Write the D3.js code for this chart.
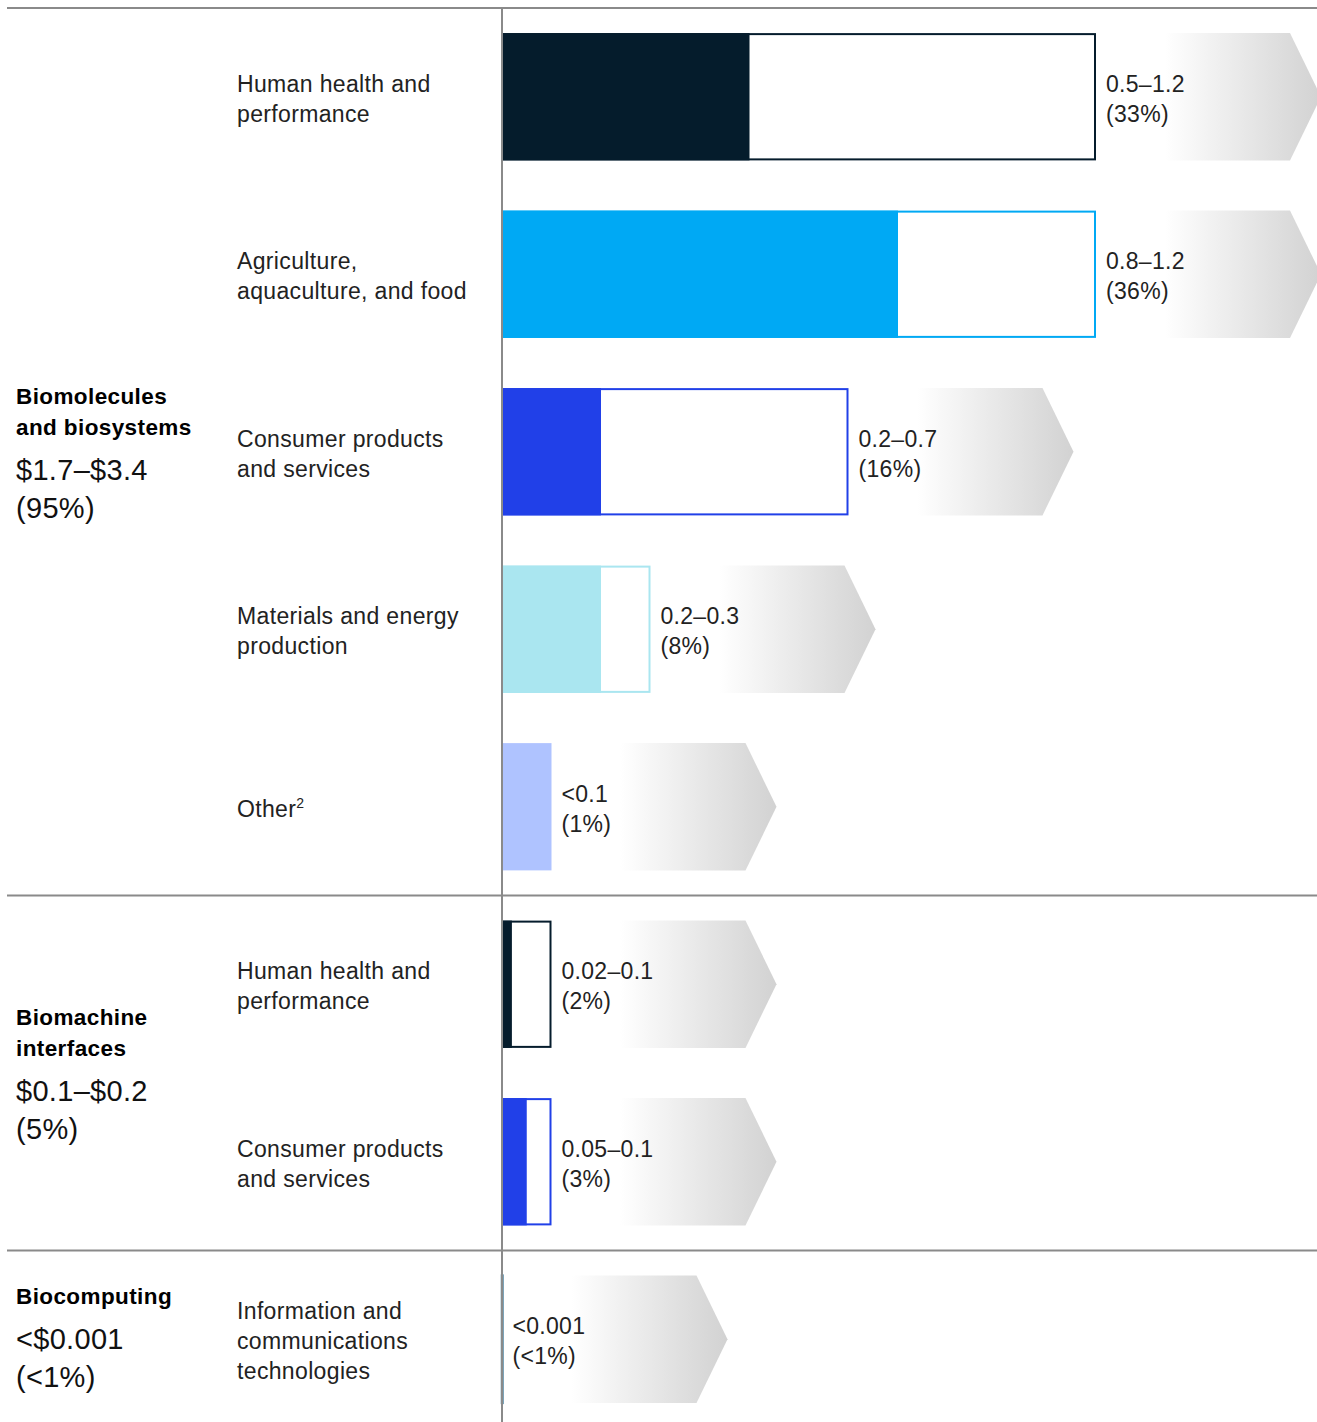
<!DOCTYPE html>
<html>
<head>
<meta charset="utf-8">
<script src="https://cdn.jsdelivr.net/npm/d3@7"></script>
<style>
  html, body { margin: 0; padding: 0; background: #fff; }
  svg { display: block; font-family: "Liberation Sans", Arial, sans-serif; }
</style>
</head>
<body>
<svg id="chart" width="1317" height="1422"></svg>
<script>
// ---------- data ----------
const groupNames = [["Biomolecules", "and biosystems"], ["Biomachine", "interfaces"], ["Biocomputing"]];
const groupValues = ["$1.7–$3.4", "$0.1–$0.2", "<$0.001"];
const groupShares = ["(95%)", "(5%)", "(<1%)"];

const categories = [
  ["Human health and", "performance"],
  ["Agriculture,", "aquaculture, and food"],
  ["Consumer products", "and services"],
  ["Materials and energy", "production"],
  ["Other"],
  ["Human health and", "performance"],
  ["Consumer products", "and services"],
  ["Information and", "communications", "technologies"]
];
const categoryGroup = [0, 0, 0, 0, 0, 1, 1, 2];
const lowValues  = [0.5, 0.8, 0.2, 0.2, 0.1, 0.02, 0.05, 0.001];
const highValues = [1.2, 1.2, 0.7, 0.3, 0.1, 0.1, 0.1, 0.001];
const rangeLabels = ["0.5–1.2", "0.8–1.2", "0.2–0.7", "0.2–0.3", "<0.1", "0.02–0.1", "0.05–0.1", "<0.001"];
const shareLabels = ["(33%)", "(36%)", "(16%)", "(8%)", "(1%)", "(2%)", "(3%)", "(<1%)"];
const barColors = ["#051c2c", "#00a9f4", "#2140e8", "#aae6f0", "#afc3ff", "#051c2c", "#2140e8", "#4f86a3"];

// ---------- layout ----------
const W = 1317, H = 1422;
const svg = d3.select("#chart");
const x = d3.scaleLinear().domain([0, 1.2]).range([502, 1096]);
const y = d3.scaleBand().domain(d3.range(categories.length)).range([8, 1428])
  .paddingInner(0.283).paddingOuter(0.1415);
const step = y.step(), bw = y.bandwidth();
const gap = step - bw;

const defs = svg.append("defs");
const grad = defs.append("linearGradient").attr("id", "fade")
  .attr("x1", "0").attr("x2", "1").attr("y1", "0").attr("y2", "0");
grad.append("stop").attr("offset", "0").attr("stop-color", "#ffffff");
grad.append("stop").attr("offset", "0.3").attr("stop-color", "#ffffff");
grad.append("stop").attr("offset", "0.87").attr("stop-color", "#dadada");
grad.append("stop").attr("offset", "1").attr("stop-color", "#d2d2d2");

const idx = d3.range(categories.length);

// arrows
svg.append("g").selectAll("path").data(idx).join("path")
  .attr("fill", "url(#fade)")
  .attr("d", i => {
    const x0 = x(highValues[i]) + 2, xc = x(highValues[i]) + 194, xt = x(highValues[i]) + 225;
    const t = y(i), b = y(i) + bw, m = y(i) + bw / 2;
    return `M${x0},${t}L${xc},${t}L${xt},${m}L${xc},${b}L${x0},${b}Z`;
  });

// outline (high) rects
svg.append("g").selectAll("rect").data(idx.filter(i => highValues[i] > lowValues[i])).join("rect")
  .attr("x", x(0)).attr("y", i => y(i) + 1)
  .attr("width", i => x(highValues[i]) - x(0) - 1)
  .attr("height", bw - 2)
  .attr("fill", "#fff")
  .attr("stroke", i => barColors[i]).attr("stroke-width", 2);

// filled (low) rects
svg.append("g").selectAll("rect").data(idx).join("rect")
  .attr("x", x(0)).attr("y", i => y(i))
  .attr("width", i => Math.max(x(lowValues[i]) - x(0), 0))
  .attr("height", bw)
  .attr("fill", i => barColors[i])
  .attr("stroke", i => lowValues[i] < 0.01 ? barColors[i] : "none")
  .attr("stroke-width", 2.5);

// value labels
const vl = svg.append("g").selectAll("text").data(idx).join("text")
  .attr("x", i => x(highValues[i]) + 10)
  .attr("y", i => y(i) + bw / 2 - 5)
  .attr("font-size", 23).attr("letter-spacing", 0.3).attr("fill", "#222");
vl.append("tspan").text(i => rangeLabels[i]);
vl.append("tspan").attr("x", i => x(highValues[i]) + 10).attr("dy", 30).text(i => shareLabels[i]);

// category labels
const cl = svg.append("g").selectAll("text").data(idx).join("text")
  .attr("x", 237)
  .attr("y", i => y(i) + bw / 2 + 10 - (categories[i].length - 1) * 15)
  .attr("font-size", 23).attr("letter-spacing", 0.35).attr("fill", "#222");
cl.each(function (i) {
  const t = d3.select(this);
  categories[i].forEach((line, k) => {
    t.append("tspan").attr("x", 237).attr("dy", k === 0 ? 0 : 30).text(line);
  });
  if (i === 4) t.append("tspan").attr("font-size", 14).attr("dy", -9).text("2");
});

// group dividers
const groupStarts = groupNames.map((g, gi) => categoryGroup.indexOf(gi));
const groupEnds = groupNames.map((g, gi) => categoryGroup.lastIndexOf(gi));
const divY = groupStarts.map(s => y(s) - gap / 2);

svg.append("g").selectAll("line").data(divY).join("line")
  .attr("x1", 7).attr("x2", W).attr("y1", d => d).attr("y2", d => d)
  .attr("stroke", "#8a8a8a").attr("stroke-width", 2);

// vertical axis
svg.append("line").attr("x1", x(0)).attr("x2", x(0)).attr("y1", divY[0]).attr("y2", H)
  .attr("stroke", "#8a8a8a").attr("stroke-width", 2);

// group labels
groupNames.forEach((g, gi) => {
  const top = y(groupStarts[gi]) - gap / 2;
  const bot = Math.min(y(groupEnds[gi]) + bw + gap / 2, H);
  const c = (top + bot) / 2;
  const nameLines = g.length;
  const blockH = nameLines * 31 + 40 + 38;
  let by = c - blockH / 2 + 22;
  const t = svg.append("text").attr("x", 16).attr("fill", "#000");
  g.forEach((line, k) => {
    t.append("tspan").attr("x", 16).attr("y", by + k * 31)
      .attr("font-size", 22.5).attr("letter-spacing", 0.4).attr("font-weight", "bold").text(line);
  });
  const vy = by + (nameLines - 1) * 31 + 45;
  t.append("tspan").attr("x", 16).attr("y", vy).attr("font-size", 29).attr("letter-spacing", 0.3).attr("fill", "#111").text(groupValues[gi]);
  t.append("tspan").attr("x", 16).attr("y", vy + 38).attr("font-size", 29).attr("letter-spacing", 0.3).attr("fill", "#111").text(groupShares[gi]);
});
</script>
</body>
</html>
